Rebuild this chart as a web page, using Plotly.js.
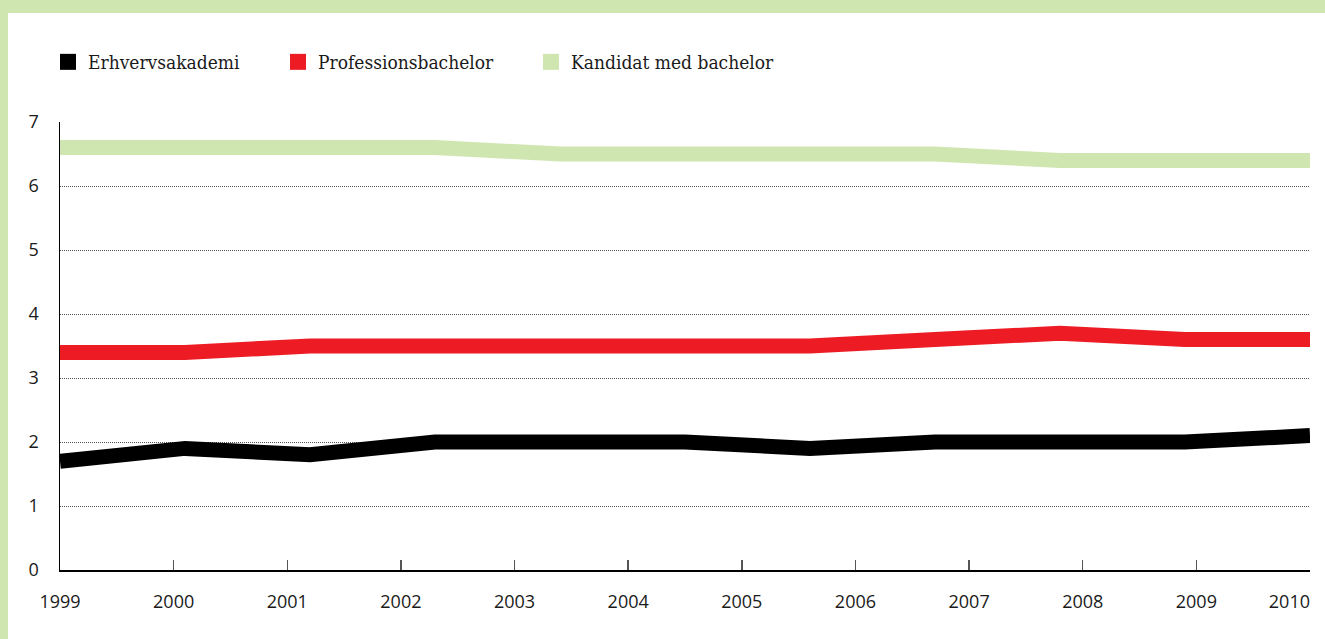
<!DOCTYPE html>
<html>
<head>
<meta charset="utf-8">
<script src="https://cdn.plot.ly/plotly-3.0.1.min.js"></script>
<style>
  html, body { margin: 0; padding: 0; background: #d0e6b0; width: 1325px; height: 639px; overflow: hidden; }
  #chart { position: absolute; left: 8px; top: 13px; width: 1317px; height: 626px; background: #ffffff; }
</style>
</head>
<body>
<div id="chart"></div>
<script>
// ---- data ----
const seriesNames = ["Erhvervsakademi", "Professionsbachelor", "Kandidat med bachelor"];
const seriesColors = ["#000000", "#ed1c24", "#d0e6b0"];
const dataYears = [2000, 2001, 2002, 2003, 2004, 2005, 2006, 2007, 2008, 2009, 2010];
const erhvervsakademi = [1.7, 1.9, 1.8, 2.0, 2.0, 2.0, 1.9, 2.0, 2.0, 2.0, 2.1];
const professionsbachelor = [3.4, 3.4, 3.5, 3.5, 3.5, 3.5, 3.5, 3.6, 3.7, 3.6, 3.6];
const kandidatMedBachelor = [6.6, 6.6, 6.6, 6.6, 6.5, 6.5, 6.5, 6.5, 6.4, 6.4, 6.4];
const tickYears = [1999, 2000, 2001, 2002, 2003, 2004, 2005, 2006, 2007, 2008, 2009, 2010];
const tickLabels = ["1999", "2000", "2001", "2002", "2003", "2004", "2005", "2006", "2007", "2008", "2009", "2010"];
const yTicks = [0, 1, 2, 3, 4, 5, 6, 7];

const seriesValues = [erhvervsakademi, professionsbachelor, kandidatMedBachelor];
const lastIdx = tickYears.length - 1;

const traces = [];
// order: green first (background), then red, then black on top
[2, 1, 0].forEach(i => {
  traces.push({
    type: "scatter", mode: "lines",
    x: dataYears, y: seriesValues[i],
    xaxis: "x", yaxis: "y",
    line: { color: seriesColors[i], width: 15, shape: "linear" },
    name: seriesNames[i], showlegend: false, hoverinfo: "skip"
  });
});
// legend-only square markers, one legend each
const legendIds = ["legend", "legend2", "legend3"];
seriesNames.forEach((n, i) => {
  traces.push({
    type: "scatter", mode: "markers",
    x: [null], y: [null],
    xaxis: "x", yaxis: "y",
    marker: { symbol: "square", size: 16, color: seriesColors[i], line: { width: 0 } },
    name: n, showlegend: true, legend: legendIds[i], hoverinfo: "skip"
  });
});
// invisible carriers for the tick axes
traces.push({ type: "scatter", mode: "lines", x: [tickYears[0], tickYears[lastIdx]], y: [null, null],
  xaxis: "x2", yaxis: "y", showlegend: false, hoverinfo: "skip" });
traces.push({ type: "scatter", mode: "lines", x: [tickYears[0], tickYears[lastIdx]], y: [null, null],
  xaxis: "x3", yaxis: "y", showlegend: false, hoverinfo: "skip" });

const tickFont = { family: "Open Sans, Noto Sans, sans-serif", size: 18, color: "#1a1a1a" };
const legendFont = { family: "DejaVu Serif Condensed, DejaVu Serif, serif", size: 19, color: "#1a1a1a" };

function legendAt(x) {
  return {
    xref: "container", yref: "container",
    x: x, y: 1 - 49 / 626, xanchor: "left", yanchor: "middle",
    orientation: "h", bgcolor: "rgba(0,0,0,0)", borderwidth: 0,
    font: legendFont, itemclick: false, itemdoubleclick: false
  };
}

const layout = {
  width: 1317, height: 626,
  paper_bgcolor: "#ffffff", plot_bgcolor: "#ffffff",
  margin: { l: 52, r: 15, t: 109, b: 68.5, pad: 0 },
  showlegend: true,
  legend: legendAt(40 / 1317),
  legend2: legendAt(270 / 1317),
  legend3: legendAt(523 / 1317),
  xaxis: {
    range: [dataYears[0], dataYears[dataYears.length - 1]],
    showticklabels: false, ticks: "", showgrid: false, zeroline: false,
    showline: true, linecolor: "#000000", linewidth: 2, fixedrange: true
  },
  xaxis2: {
    overlaying: "x", anchor: "y", side: "bottom",
    range: [tickYears[0], tickYears[lastIdx]],
    tickmode: "array", tickvals: tickYears,
    ticktext: tickLabels.map((t, i) => (i === lastIdx ? "" : t)),
    ticks: "inside", ticklen: 10, tickwidth: 1.5, tickcolor: "#555555",
    showgrid: false, zeroline: false, showline: false,
    tickfont: tickFont, ticklabelstandoff: 19, fixedrange: true
  },
  xaxis3: {
    overlaying: "x", anchor: "y", side: "bottom",
    range: [tickYears[0], tickYears[lastIdx]],
    tickmode: "array", tickvals: [tickYears[lastIdx]], ticktext: [tickLabels[lastIdx]],
    ticks: "", ticklabelposition: "outside left",
    showgrid: false, zeroline: false, showline: false,
    tickfont: tickFont, ticklabelstandoff: 19, fixedrange: true
  },
  yaxis: {
    range: [yTicks[0], yTicks[yTicks.length - 1]],
    tickmode: "array", tickvals: yTicks, ticktext: yTicks.map(String),
    ticks: "", showgrid: true, gridcolor: "#555555", gridwidth: 1, griddash: "1px,1px",
    zeroline: false, showline: true, linecolor: "#000000", linewidth: 1.5,
    tickfont: tickFont, ticklabelstandoff: 16, fixedrange: true
  }
};

Plotly.newPlot("chart", traces, layout, { displayModeBar: false, staticPlot: true });
</script>
</body>
</html>
